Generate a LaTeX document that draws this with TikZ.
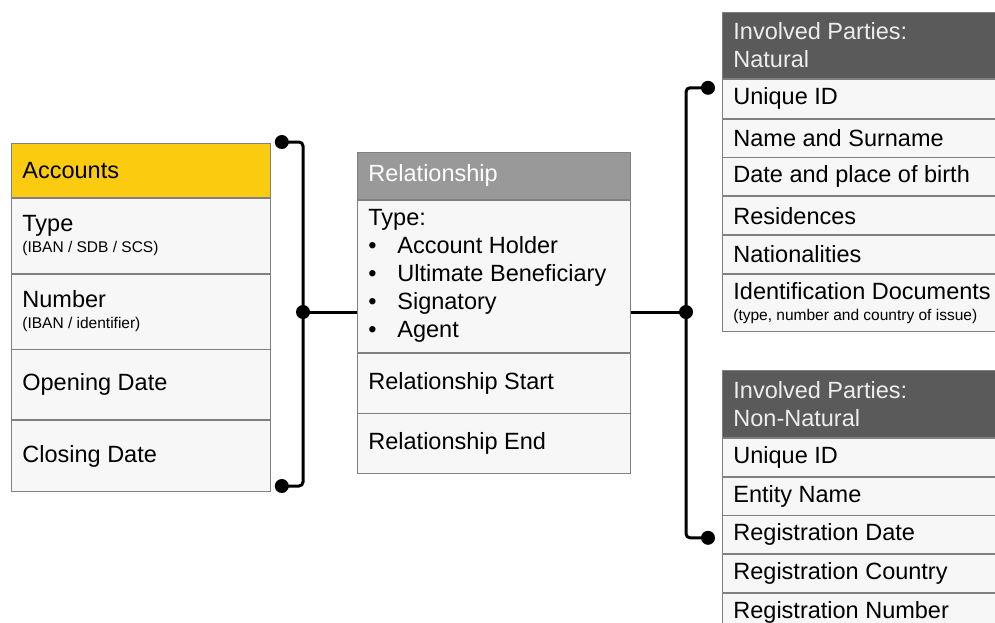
\documentclass[tikz,border=0pt]{standalone}
\usepackage{fontspec}
\setmainfont{Liberation Sans}
\usetikzlibrary{positioning,calc}

\definecolor{accgold}{RGB}{250,203,15}
\definecolor{relgray}{RGB}{153,153,153}
\definecolor{pardark}{RGB}{90,90,90}
\definecolor{cellfill}{RGB}{247,247,247}
\definecolor{cellline}{RGB}{128,128,128}

\newcommand\cellfont{\fontsize{23.5}{28}\selectfont}
\newcommand\subnote[1]{{\fontsize{15.5}{18}\selectfont #1}}
\newcommand\bulletitem{\makebox[29pt][l]{\textbullet}}

\tikzset{
  cell/.style={draw=cellline, fill=cellfill, line width=0.8pt, anchor=north west,
    inner xsep=11pt, inner ysep=2pt, align=flush left, font=\cellfont},
  accrow/.style={cell, text width=237pt},
  relrow/.style={cell, text width=251pt},
  parrow/.style={cell, text width=278pt},
  acchead/.style={accrow, fill=accgold},
  relhead/.style={relrow, fill=relgray, text=white},
  parhead/.style={parrow, fill=pardark, text=white!93!black},
  link/.style={line width=3pt, rounded corners=4pt},
  dot/.style={fill=black}
}

\begin{document}
\begin{tikzpicture}[x=1pt,y=-1pt]
\useasboundingbox (0,0) rectangle (995,623);
\clip (0,0) rectangle (995,623);

% accounts
\node [acchead, minimum height=54pt] (acc-head) at (11,143) {Accounts};
\node [accrow, minimum height=75pt] (acc-type) [below=0pt of acc-head] {Type\\[-7pt]\subnote{(IBAN / SDB / SCS)}};
\node [accrow, minimum height=75pt] (acc-num) [below=0pt of acc-type] {Number\\[-7pt]\subnote{(IBAN / identifier)}};
\node [accrow, minimum height=70pt] (acc-open) [below=0pt of acc-num] {Opening Date};
\node [accrow, minimum height=71pt] (acc-close) [below=0pt of acc-open] {Closing Date};

% relationship
\node [relhead, minimum height=47pt] (rel-head) at (357,152) {Relationship};
\node [relrow, minimum height=152pt] (rel-type) [below=0pt of rel-head] {Type:\\
  \bulletitem Account Holder\\
  \bulletitem Ultimate Beneficiary\\
  \bulletitem Signatory\\
  \bulletitem Agent};
\node [relrow, minimum height=60pt] (rel-start) [below=0pt of rel-type] {Relationship Start};
\node [relrow, minimum height=60pt] (rel-end) [below=0pt of rel-start] {Relationship End};

% natural parties
\node [parhead, minimum height=66pt] (nat-head) at (722,12) {Involved Parties:\\Natural};
\node [parrow, minimum height=39pt] (nat-id) [below=0pt of nat-head] {Unique ID};
\node [parrow, minimum height=38pt] (nat-name) [below=0pt of nat-id] {Name and Surname};
\node [parrow, minimum height=38pt] (nat-birth) [below=0pt of nat-name] {Date and place of birth};
\node [parrow, minimum height=38pt] (nat-res) [below=0pt of nat-birth] {Residences};
\node [parrow, minimum height=38pt] (nat-nat) [below=0pt of nat-res] {Nationalities};
\node [parrow, minimum height=57pt] (nat-docs) [below=0pt of nat-nat] {Identification Documents\\[-7pt]\subnote{(type, number and country of issue)}};

% non-natural parties
\node [parhead, minimum height=67pt] (non-head) at (722,370) {Involved Parties:\\Non-Natural};
\node [parrow, minimum height=38pt] (non-id) [below=0pt of non-head] {Unique ID};
\node [parrow, minimum height=38pt] (non-name) [below=0pt of non-id] {Entity Name};
\node [parrow, minimum height=38pt] (non-date) [below=0pt of non-name] {Registration Date};
\node [parrow, minimum height=38pt] (non-country) [below=0pt of non-date] {Registration Country};
\node [parrow, minimum height=38pt] (non-number) [below=0pt of non-country] {Registration Number};

% brackets
\coordinate (acc-top) at ([xshift=11pt,yshift=1pt]acc-head.north east);
\coordinate (acc-bot) at ([xshift=11pt,yshift=6pt]acc-close.south east);
\coordinate (acc-join) at (303,312);
\coordinate (par-join) at (686,312);
\coordinate (nat-top) at ([xshift=-14pt,yshift=-9pt]nat-head.south west);
\coordinate (non-bot) at ([xshift=-14pt,yshift=-3pt]non-date.west);

\draw [link] (acc-top) -| (acc-join) |- (acc-bot);
\draw [link] (acc-join) -- (acc-join -| rel-type.west);
\draw [link] (rel-type.east |- par-join) -- (par-join);
\draw [link] (nat-top) -| (par-join) |- (non-bot);
\foreach \p in {acc-top,acc-bot,acc-join,par-join,nat-top,non-bot}
  \fill [dot] (\p) circle (7pt);
\end{tikzpicture}
\end{document}
